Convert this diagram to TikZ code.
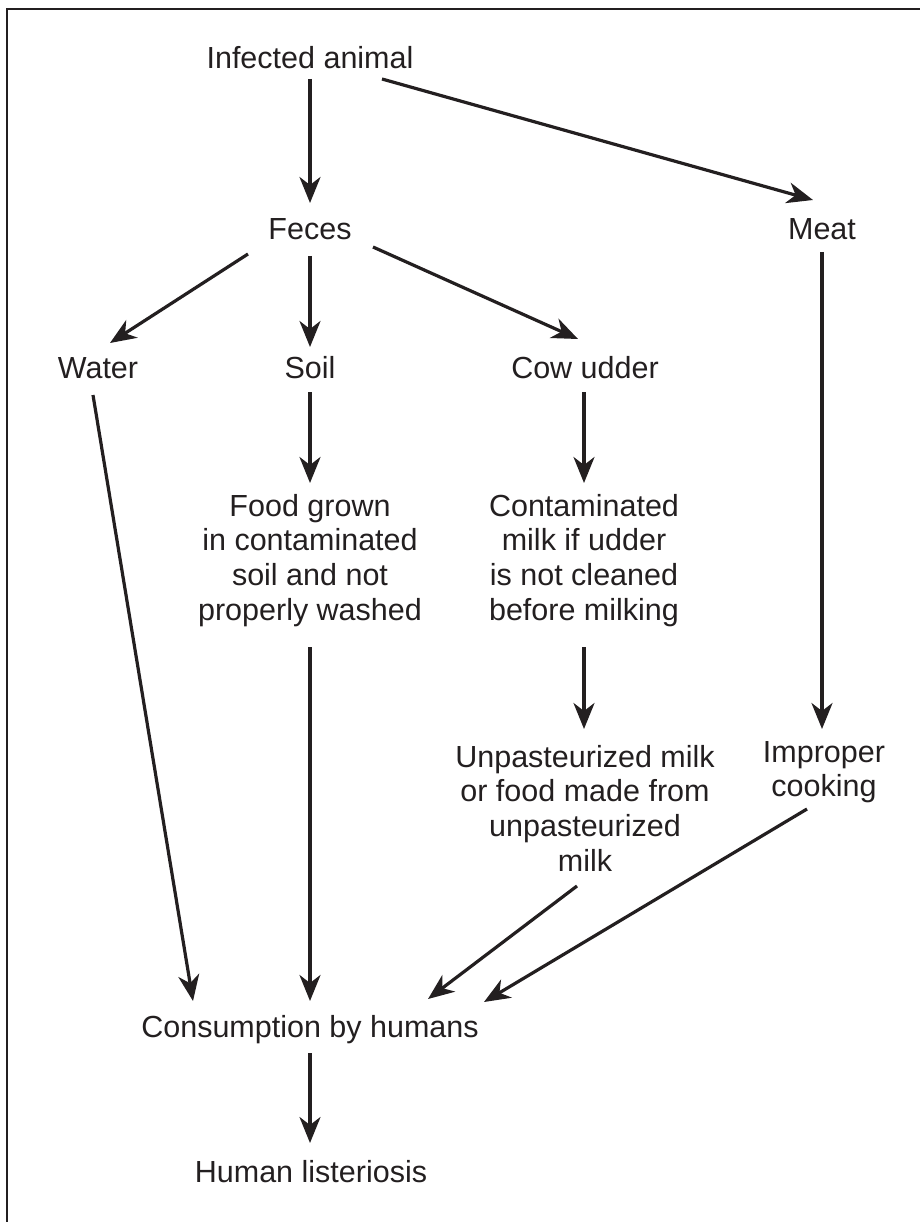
\documentclass[tikz,border=0pt]{standalone}
\usepackage{fontspec}
\setmainfont{Liberation Sans}
\usetikzlibrary{arrows.meta}
\definecolor{ink}{HTML}{231F20}
\begin{document}
\begin{tikzpicture}[x=1pt,y=-1pt,
  lbl/.style={anchor=base,inner sep=0pt,text=ink,font=\fontsize{30.5}{34.7}\selectfont},
  mlbl/.style={anchor=north,inner sep=0pt,align=center,text=ink,font=\fontsize{30.5}{34.7}\selectfont},
  arr/.style={draw=ink,line width=3.2pt,-{Stealth[length=26pt,width=21pt,inset=8pt]}},
  frame/.style={draw=ink,line width=2.6pt}]
\useasboundingbox (0,0) rectangle (920,1222);
\draw[frame] (7,1222) -- (7,9) -- (920,9);
% nodes
\node[lbl] (ia) at (310,69) {Infected animal};
\node[lbl] (fe) at (310,240) {Feces};
\node[lbl] (me) at (822,240) {Meat};
\node[lbl] (wa) at (98,378) {Water};
\node[lbl] (so) at (310,378) {Soil};
\node[lbl] (cu) at (585,378) {Cow udder};
\node[mlbl] (fg) at (310,492) {\rule{0pt}{24pt}Food grown\\in contaminated\\soil and not\\properly washed};
\node[mlbl] (cm) at (584,492) {\rule{0pt}{24pt}Contaminated\\milk if udder\\is not cleaned\\before milking};
\node[mlbl] (up) at (585,743) {\rule{0pt}{24pt}Unpasteurized milk\\or food made from\\unpasteurized\\milk};
\node[mlbl] (ic) at (824,738) {\rule{0pt}{24pt}Improper\\cooking};
\node[lbl] (co) at (310,1037) {Consumption by humans};
\node[lbl] (hl) at (311,1182) {Human listeriosis};
% connectors
\draw[arr] ([shift={(0,10)}]ia.base) -- ([shift={(0,-37)}]fe.base);
\draw[arr] ([shift={(72,10)}]ia.base) -- ([shift={(-9,-40)}]me.base);
\draw[arr] ([shift={(-62,14)}]fe.base) -- ([shift={(12,-35)}]wa.base);
\draw[arr] ([shift={(0,16)}]fe.base) -- ([shift={(0,-31)}]so.base);
\draw[arr] ([shift={(63,7)}]fe.base) -- ([shift={(-7,-39)}]cu.base);
\draw[arr] ([shift={(0,12)}]me.base) -- ([shift={(-2,-9)}]ic.north);
\draw[arr] ([shift={(-5,17)}]wa.base) -- ([shift={(-117,-36)}]co.base);
\draw[arr] ([shift={(0,14)}]so.base) -- ([shift={(0,-9)}]fg.north);
\draw[arr] ([shift={(0,155)}]fg.north) -- ([shift={(0,-36)}]co.base);
\draw[arr] ([shift={(-1,14)}]cu.base) -- ([shift={(0,-9)}]cm.north);
\draw[arr] ([shift={(0,155)}]cm.north) -- ([shift={(-1,-14)}]up.north);
\draw[arr] ([shift={(-8,143)}]up.north) -- ([shift={(118,-38)}]co.base);
\draw[arr] ([shift={(-17,71)}]ic.north) -- ([shift={(174,-35)}]co.base);
\draw[arr] ([shift={(0,16)}]co.base) -- ([shift={(-1,-39)}]hl.base);
\end{tikzpicture}
\end{document}
